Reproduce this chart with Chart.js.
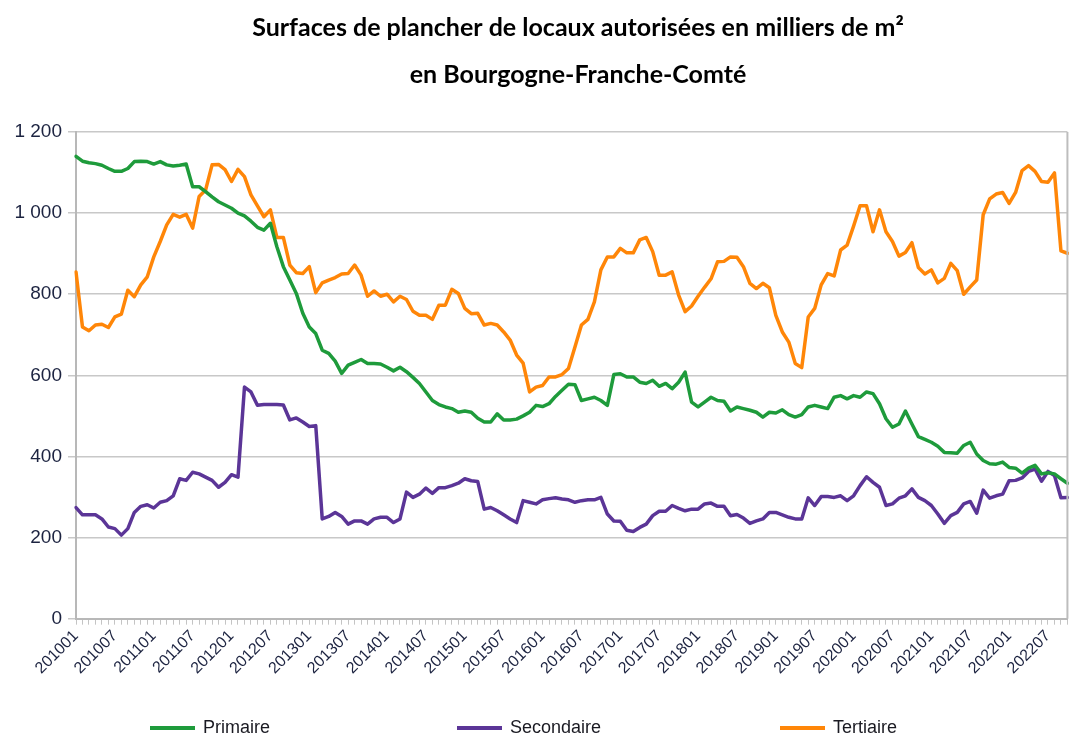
<!DOCTYPE html>
<html lang="fr">
<head>
<meta charset="utf-8">
<title>Surfaces de plancher de locaux autorisées - Bourgogne-Franche-Comté</title>
<script src="https://cdn.jsdelivr.net/npm/chart.js@4.4.0/dist/chart.umd.min.js"></script>
<style>
  html, body { margin: 0; padding: 0; background: #fff; }
  #wrap { width: 1083px; height: 742px; }
</style>
</head>
<body>
<div id="wrap"><canvas id="surfacesChart" width="1083" height="742"></canvas></div>
<script>
// Months 201001 .. 202210
const months = [];
for (let y = 2010; y <= 2022; y++) {
  for (let m = 1; m <= 12; m++) {
    if (y === 2022 && m > 10) break;
    months.push(String(y) + String(m).padStart(2, '0'));
  }
}

const yTicks = [0, 200, 400, 600, 800, 1000, 1200];
const seriesNames = ['Primaire', 'Secondaire', 'Tertiaire'];
const titleLines = ['Surfaces de plancher de locaux autorisées en milliers de m²', 'en Bourgogne-Franche-Comté'];

const primaire = [
  1140, 1128, 1124, 1122, 1118, 1110, 1103, 1103, 1110, 1127, 1128, 1127,
  1121, 1127, 1119, 1116, 1118, 1121, 1065, 1065, 1053, 1040, 1028, 1020,
  1012, 1000, 993, 980, 965, 958, 975, 917, 868, 835, 802, 753,
  719, 703, 662, 654, 635, 605, 625, 632, 639, 629, 629, 628,
  620, 611, 620, 609, 595, 580, 559, 538, 528, 522, 518, 509,
  512, 509, 494, 485, 485, 505, 490, 490, 492, 500, 509, 526,
  523, 530, 548, 563, 578, 577, 538, 542, 546, 538, 526, 602,
  604, 596, 596, 583, 580, 588, 573, 580, 567, 583, 608, 534,
  522, 534, 546, 538, 536, 512, 522, 518, 514, 509, 497, 509,
  507, 515, 503, 497, 503, 522, 526, 522, 518, 546, 550, 542,
  550, 546, 559, 555, 530, 493, 472, 480, 512, 480, 449, 442,
  435, 425, 410, 409, 408, 427, 435, 406, 390, 382, 381, 386,
  373, 371, 359, 371, 378, 357, 360, 357, 345, 334
];

const secondaire = [
  274, 256, 256, 256, 246, 226, 222, 206, 222, 262, 277, 281,
  273, 287, 291, 303, 345, 341, 361, 357, 349, 341, 324, 336,
  355, 349, 571, 559, 526, 528, 528, 528, 527, 490, 495, 485,
  474, 476, 246, 252, 262, 252, 233, 241, 241, 233, 246, 250,
  250, 237, 246, 312, 299, 307, 322, 309, 323, 323, 328, 334,
  345, 340, 338, 270, 274, 266, 256, 246, 237, 291, 287, 283,
  293, 296, 298, 295, 293, 287, 291, 293, 293, 299, 258, 241,
  240, 218, 215, 225, 233, 254, 265, 265, 279, 272, 266, 270,
  270, 283, 285, 277, 277, 254, 257, 248, 235, 241, 246, 262,
  262, 256, 250, 246, 246, 298, 279, 301, 301, 299, 303, 291,
  303, 328, 350, 336, 324, 279, 283, 297, 303, 320, 299, 291,
  279, 258, 235, 254, 262, 283, 289, 260, 317, 297, 303, 307,
  340, 341, 347, 363, 369, 339, 363, 353, 298, 299
];

const tertiaire = [
  855, 719, 710, 724, 726, 718, 744, 751, 810, 794, 823, 843,
  892, 930, 971, 997, 990, 997, 963, 1041, 1057, 1119, 1120, 1107,
  1078, 1108, 1090, 1045, 1018, 991, 1008, 940, 940, 872, 853, 851,
  868, 804, 828, 835, 841, 850, 851, 872, 847, 795, 808, 795,
  800, 781, 795, 787, 758, 748, 748, 738, 773, 773, 812, 802,
  765, 752, 753, 724, 728, 724, 707, 687, 650, 630, 559, 571,
  575, 596, 596, 602, 617, 670, 724, 738, 781, 860, 892, 892,
  913, 902, 902, 934, 940, 905, 847, 847, 855, 798, 757, 771,
  795, 817, 838, 880, 881, 892, 891, 868, 827, 814, 827, 816,
  748, 707, 682, 629, 619, 744, 765, 823, 851, 845, 909, 921,
  968, 1018, 1018, 954, 1008, 954, 930, 894, 903, 927, 866, 850,
  860, 828, 839, 876, 858, 800, 818, 835, 996, 1035, 1047, 1051,
  1024, 1051, 1105, 1117, 1103, 1078, 1076, 1099, 907, 901
];

const lineColors = ['#1e9b3b', '#5b3597', '#ff8608'];
const legendX = [150, 457, 780];

// two-line title, centred a bit right of the canvas middle like the original
const topTitle = {
  id: 'topTitle',
  afterDraw(chart) {
    const ctx = chart.ctx;
    ctx.save();
    ctx.font = 'bold 25px Lato, "Open Sans", sans-serif';
    ctx.fillStyle = '#000';
    ctx.textAlign = 'center';
    ctx.textBaseline = 'middle';
    ctx.fillText(titleLines[0], 578, 28);
    ctx.fillText(titleLines[1], 578, 75);
    ctx.restore();
  }
};

// thin gray frame line on the right side of the plot
const rightBorder = {
  id: 'rightBorder',
  afterDraw(chart) {
    const { ctx, chartArea } = chart;
    ctx.save();
    ctx.strokeStyle = '#bdbdbd';
    ctx.lineWidth = 2;
    ctx.beginPath();
    ctx.moveTo(chartArea.right, chartArea.top);
    ctx.lineTo(chartArea.right, chartArea.bottom);
    ctx.stroke();
    ctx.restore();
  }
};

// legend spread across the bottom like the original
const bottomLegend = {
  id: 'bottomLegend',
  afterDraw(chart) {
    const ctx = chart.ctx;
    const y = 728;
    ctx.save();
    ctx.font = '18px "Liberation Sans", Arial, sans-serif';
    ctx.textBaseline = 'middle';
    chart.data.datasets.forEach((ds, i) => {
      const x = legendX[i];
      ctx.strokeStyle = ds.borderColor;
      ctx.lineWidth = 4;
      ctx.beginPath();
      ctx.moveTo(x, y);
      ctx.lineTo(x + 45, y);
      ctx.stroke();
      ctx.fillStyle = '#1a1a22';
      ctx.fillText(ds.label, x + 53, y);
    });
    ctx.restore();
  }
};

const ctx = document.getElementById('surfacesChart').getContext('2d');

const surfacesChart = new Chart(ctx, {
  type: 'line',
  data: {
    labels: months,
    datasets: [
      { label: seriesNames[0], data: primaire, borderColor: lineColors[0] },
      { label: seriesNames[1], data: secondaire, borderColor: lineColors[1] },
      { label: seriesNames[2], data: tertiaire, borderColor: lineColors[2] }
    ]
  },
  options: {
    responsive: false,
    animation: false,
    devicePixelRatio: 1,
    layout: { padding: { left: 0, right: 8, top: 132, bottom: 62 } },
    elements: {
      line: { borderWidth: 3.5, tension: 0, borderJoinStyle: 'round', borderCapStyle: 'round' },
      point: { radius: 0, hoverRadius: 0 }
    },
    plugins: {
      legend: { display: false },
      tooltip: { enabled: false },
      title: { display: false }
    },
    scales: {
      x: {
        grid: {
          drawOnChartArea: false,
          drawTicks: true,
          tickLength: 6,
          color: '#c4c4c4',
          lineWidth: 1
        },
        border: { display: true, color: '#b8b8b8', width: 2 },
        ticks: {
          autoSkip: false,
          minRotation: 45,
          maxRotation: 45,
          padding: 2,
          color: '#1c2340',
          font: { family: '"Liberation Sans", Arial, sans-serif', size: 16 },
          callback: function (value, index) {
            return index % 6 === 0 ? months[index] : '';
          }
        }
      },
      y: {
        min: yTicks[0],
        max: yTicks[yTicks.length - 1],
        afterFit: function (scale) { scale.width = 76; },
        afterBuildTicks: function (scale) {
          scale.ticks = yTicks.map(v => ({ value: v }));
        },
        grid: {
          color: '#c8c8c8',
          lineWidth: 1.5,
          tickLength: 8
        },
        border: { display: true, color: '#b8b8b8', width: 2 },
        ticks: {
          padding: 6,
          color: '#1c2340',
          font: { family: '"Liberation Sans", Arial, sans-serif', size: 19 },
          callback: function (value) {
            return value >= 1000 ? Math.floor(value / 1000) + ' ' + String(value % 1000).padStart(3, '0') : String(value);
          }
        }
      }
    }
  },
  plugins: [topTitle, rightBorder, bottomLegend]
});
</script>
</body>
</html>
